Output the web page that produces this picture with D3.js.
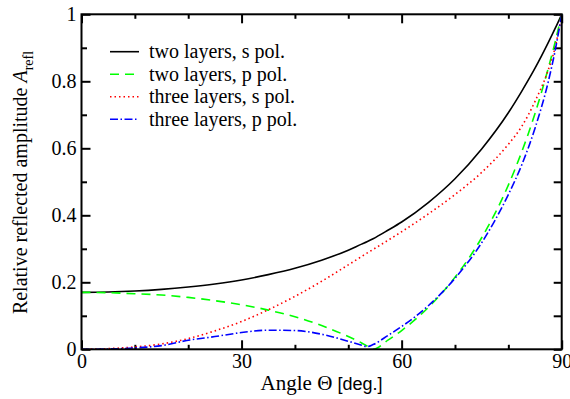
<!DOCTYPE html>
<html lang="en">

<head>
    <meta charset="UTF-8">
    <title>Relative reflected amplitude</title>
    <script src="https://d3js.org/d3.v7.min.js"></script>
    <style>
        body {
            margin: 0;
            background: #fff;
        }

        svg {
            display: block;
        }

        .tick text {
            font-family: "Liberation Serif", "Times New Roman", serif;
            font-size: 20px;
            fill: #000;
        }

        .tick line {
            stroke: #000;
            stroke-width: 2px;
        }

        .legend text {
            font-family: "Liberation Serif", "Times New Roman", serif;
            font-size: 20px;
        }
    </style>
</head>

<body>
    <svg width="570" height="399"></svg>
    <script>
        // angle of incidence (deg)
        const angles = [0, 5, 10, 15, 20, 25, 30, 35, 40, 45, 50, 52.5, 53.5, 54.65, 57.5, 60, 65, 70, 75, 80, 82.5, 85, 87.5, 88.75, 90];

        // values
        const twoLayersS = [0.170, 0.171, 0.174, 0.179, 0.186, 0.195, 0.207, 0.223, 0.242, 0.266, 0.296, 0.314, 0.321, 0.330, 0.356, 0.380, 0.438, 0.509, 0.598, 0.706, 0.770, 0.839, 0.916, 0.957, 1.0];
        const twoLayersP = [0.170, 0.169, 0.166, 0.162, 0.155, 0.145, 0.133, 0.117, 0.097, 0.071, 0.038, 0.019, 0.010, 0.000, 0.028, 0.056, 0.125, 0.215, 0.333, 0.490, 0.589, 0.704, 0.840, 0.916, 1.0];
        const threeLayersS = [0, 0.002, 0.007, 0.016, 0.032, 0.055, 0.083, 0.118, 0.158, 0.203, 0.252, 0.277, 0.287, 0.298, 0.326, 0.351, 0.404, 0.462, 0.528, 0.612, 0.665, 0.740, 0.835, 0.900, 1.0];
        const threeLayersP = [0, 0.001, 0.004, 0.011, 0.027, 0.038, 0.050, 0.057, 0.056, 0.045, 0.024, 0.012, 0.008, 0.014, 0.042, 0.068, 0.130, 0.212, 0.318, 0.462, 0.550, 0.660, 0.800, 0.890, 1.0];

        const seriesNames = ["two layers, s pol.", "two layers, p pol.", "three layers, s pol.", "three layers, p pol."];
        const seriesColors = ["#000000", "#00ff00", "#ff0000", "#0000ff"];
        const seriesDash = ["none", "9,6", "1.5,3", "8,2.5,1.5,2.5"];
        const seriesValues = [twoLayersS, twoLayersP, threeLayersS, threeLayersP];

        const xMajor = [0, 30, 60, 90];
        const xMinor = [10, 20, 40, 50, 70, 80];
        const yMajor = [0, 0.2, 0.4, 0.6, 0.8, 1];
        const yMinor = [0.1, 0.3, 0.5, 0.7, 0.9];

        const svg = d3.select("svg");
        const plotLeft = 81.5, plotRight = 561.7, plotTop = 14.3, plotBottom = 349.3;

        const x = d3.scaleLinear().domain([0, 90]).range([plotLeft, plotRight]);
        const y = d3.scaleLinear().domain([0, 1]).range([plotBottom, plotTop]);

        // ticks (all pointing inward)
        svg.append("g")
            .attr("transform", `translate(0,${plotBottom})`)
            .call(d3.axisBottom(x).tickValues(xMajor).tickSize(-9).tickPadding(5).tickFormat(d3.format("d")))
            .call(g => g.select(".domain").remove());
        svg.append("g")
            .attr("transform", `translate(0,${plotBottom})`)
            .call(d3.axisBottom(x).tickValues(xMinor).tickSize(-4.5).tickFormat(""))
            .call(g => g.select(".domain").remove());
        svg.append("g")
            .attr("transform", `translate(0,${plotTop})`)
            .call(d3.axisTop(x).tickValues(xMajor).tickSize(-9).tickFormat(""))
            .call(g => g.select(".domain").remove());
        svg.append("g")
            .attr("transform", `translate(0,${plotTop})`)
            .call(d3.axisTop(x).tickValues(xMinor).tickSize(-4.5).tickFormat(""))
            .call(g => g.select(".domain").remove());

        svg.append("g")
            .attr("transform", `translate(${plotLeft},0)`)
            .call(d3.axisLeft(y).tickValues(yMajor).tickSize(-9).tickPadding(5).tickFormat(d => d === 0 || d === 1 ? d3.format("d")(d) : d3.format(".1f")(d)))
            .call(g => g.select(".domain").remove());
        svg.append("g")
            .attr("transform", `translate(${plotLeft},0)`)
            .call(d3.axisLeft(y).tickValues(yMinor).tickSize(-5.5).tickFormat(""))
            .call(g => g.select(".domain").remove());
        svg.append("g")
            .attr("transform", `translate(${plotRight},0)`)
            .call(d3.axisRight(y).tickValues(yMajor.concat(yMinor)).tickSize(-8).tickFormat(""))
            .call(g => g.select(".domain").remove());

        // curves
        const line = d3.line()
            .x((d, i) => x(angles[i]))
            .y(d => y(d))
            .curve(d3.curveMonotoneX);

        svg.selectAll("path.curve")
            .data(seriesValues)
            .enter()
            .append("path")
            .attr("class", "curve")
            .attr("d", d => line(d))
            .attr("fill", "none")
            .attr("stroke", (d, i) => seriesColors[i])
            .attr("stroke-width", 1.6)
            .attr("stroke-dasharray", (d, i) => seriesDash[i]);

        // frame
        svg.append("rect")
            .attr("x", plotLeft)
            .attr("y", plotTop)
            .attr("width", plotRight - plotLeft)
            .attr("height", plotBottom - plotTop)
            .attr("fill", "none")
            .attr("stroke", "#000")
            .attr("stroke-width", 2);

        // legend
        const legend = svg.append("g").attr("class", "legend");
        const item = legend.selectAll("g")
            .data(seriesNames)
            .enter()
            .append("g")
            .attr("transform", (d, i) => `translate(110, ${51.7 + i * 22.5})`);
        item.append("line")
            .attr("x1", 0)
            .attr("x2", 29)
            .attr("stroke", (d, i) => seriesColors[i])
            .attr("stroke-width", 1.6)
            .attr("stroke-dasharray", (d, i) => seriesDash[i]);
        item.append("text")
            .attr("x", 39)
            .attr("dy", "0.33em")
            .text(d => d);

        // axis titles
        const xTitle = svg.append("text")
            .attr("x", (plotLeft + plotRight) / 2)
            .attr("y", 390)
            .attr("text-anchor", "middle")
            .style("font-size", "21px")
            .style("font-family", "'Liberation Serif', 'Times New Roman', serif");
        xTitle.append("tspan").text("Angle \u0398 ");
        xTitle.append("tspan").style("font-family", "'Liberation Sans', Arial, sans-serif").style("font-size", "18px").text("[deg.]");

        const yTitle = svg.append("text")
            .attr("transform", `translate(27, 182.5) rotate(-90)`)
            .attr("text-anchor", "middle")
            .style("font-size", "20px")
            .style("font-family", "'Liberation Serif', 'Times New Roman', serif");
        yTitle.append("tspan").text("Relative reflected amplitude ");
        yTitle.append("tspan").style("font-style", "italic").text("A");
        yTitle.append("tspan").attr("dy", 6).style("font-size", "14px").text("refl");
    </script>
</body>

</html>
